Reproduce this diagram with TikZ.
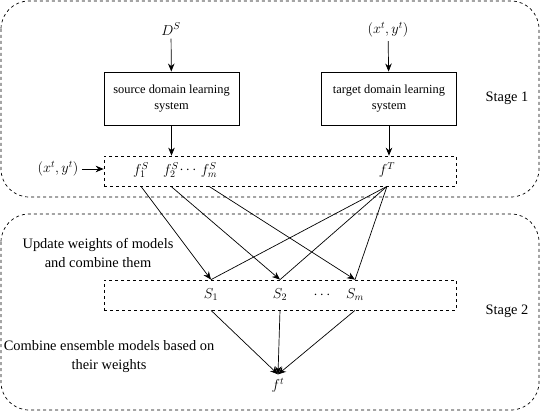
\documentclass[tikz,border=0pt]{standalone}
\usepackage{fontspec}
\setmainfont{Liberation Serif}
\usetikzlibrary{arrows.meta}

\begin{document}
\begin{tikzpicture}[x=1pt,y=-1pt,font=\rmfamily\fontsize{14.4}{19}\selectfont,
    sysbox/.style={draw,line width=0.9pt,minimum width=135,minimum height=53,
      align=center,font=\rmfamily\fontsize{12.4}{16}\selectfont},
    pool/.style={draw,dashed,line width=0.7pt,minimum width=352,minimum height=30},
    item/.style={inner sep=1pt},
    stage/.style={dashed,line width=0.7pt,rounded corners=28},
    arr/.style={-{Stealth[length=8pt,width=6.5pt]},line width=0.7pt}]
      \useasboundingbox (0,0) rectangle (540,411);
      \draw[stage] (1,1) rectangle (539,197);
      \draw[stage] (1,214) rectangle (539,410);
      \node (stA) at (507,98) {Stage 1};
      \node (stB) at (507,311) {Stage 2};
      \node (DS) at (171,29) {$D^S$};
      \node (xyT) at (388,30) {$(x^t,y^t)$};
      \node[sysbox] (src) at (171.5,98.5) {source domain learning\\system};
      \node[sysbox] (tgt) at (389,98.5) {target domain learning\\system};
      \node[pool] (pool1) at (280,171) {};
      \node[item] (fS1) at (141,170) {$f_1^S$};
      \node[item] (fS2) at (171,170) {$f_2^S$};
      \node[item] (dotsA) at (188,170) {$\cdots$};
      \node[item] (fSm) at (209,170) {$f_m^S$};
      \node[item] (fT) at (387,170) {$f^T$};
      \node (xyL) at (58,169) {$(x^t,y^t)$};
      \node[pool] (pool2) at (280,295) {};
      \node[item] (S1) at (211,295) {$S_1$};
      \node[item] (S2) at (280,295) {$S_2$};
      \node[item] (dotsB) at (322,295) {$\cdots$};
      \node[item] (Sm) at (355,295) {$S_m$};
      \node (ft) at (278,385) {$f^t$};
      \node[align=center] (upd) at (98,253) {Update weights of models\\and combine them};
      \node[align=center] (comb) at (109,357) {Combine ensemble models based on\\their weights};
      \draw[arr] (DS) -- (src);
      \draw[arr] (xyT) -- (tgt);
      \draw[arr] (src) -- (src |- pool1.north);
      \draw[arr] (tgt) -- (tgt |- pool1.north);
      \draw[arr] (xyL.east) -- (xyL.east -| pool1.west);
      \foreach \a/\b in {fS1/S1,fS2/S2,fSm/Sm}
      \draw[arr] (\a |- pool1.south) -- (\b |- pool2.north);
      \foreach \s in {S1,S2,Sm}
      \draw[arr] (fT |- pool1.south) -- (\s |- pool2.north)
       (\s |- pool2.south) -- (ft.north)
      ;
    \end{tikzpicture}
\end{document}
